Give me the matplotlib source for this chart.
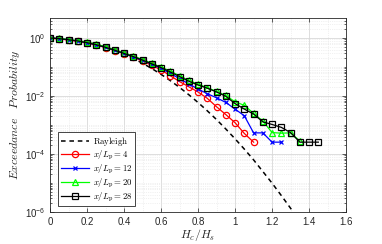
import numpy as np
import matplotlib
matplotlib.use("Agg")
import matplotlib.pyplot as plt
from matplotlib.ticker import LogLocator, NullFormatter, FixedLocator

plt.rcParams['mathtext.fontset'] = 'cm'
plt.rcParams['font.family'] = ['Liberation Sans', 'DejaVu Sans']

# Rayleigh reference curve
ray_x = [0.0, 0.05, 0.1, 0.15, 0.2, 0.25, 0.3, 0.35, 0.4, 0.45, 0.5, 0.55, 0.6, 0.65,
         0.7, 0.75, 0.8, 0.85, 0.9, 0.95, 1.0, 1.05, 1.1, 1.15, 1.2, 1.25, 1.3, 1.35, 1.4]
ray_p = [1.0, 0.980, 0.923, 0.835, 0.726, 0.607, 0.487, 0.375, 0.278, 0.198, 0.135,
         0.089, 0.056, 0.034, 0.0198, 0.0111, 0.00598, 0.00309, 0.00154, 7.3e-4, 3.35e-4,
         1.48e-4, 6.3e-5, 2.5e-5, 9.9e-6, 3.7e-6, 1.35e-6, 4.6e-7, 1.5e-7]

# log10 of exceedance probability, sampled every 0.05 in Hc/Hs
x4 = [0.0, 0.05, 0.1, 0.15, 0.2, 0.25, 0.3, 0.35, 0.4, 0.45, 0.5, 0.55, 0.6, 0.65,
      0.7, 0.75, 0.8, 0.85, 0.9, 0.95, 1.0, 1.05, 1.1]
lp4 = [0.0, -0.03, -0.07, -0.11, -0.17, -0.24, -0.33, -0.43, -0.54, -0.66, -0.80, -0.94,
       -1.10, -1.30, -1.50, -1.68, -1.86, -2.08, -2.37, -2.64, -2.92, -3.29, -3.59]

x12 = [0.0, 0.05, 0.1, 0.15, 0.2, 0.25, 0.3, 0.35, 0.4, 0.45, 0.5, 0.55, 0.6, 0.65,
       0.7, 0.75, 0.8, 0.85, 0.9, 0.95, 1.0, 1.05, 1.1, 1.15, 1.2, 1.25]
lp12 = [0.0, -0.02, -0.06, -0.10, -0.16, -0.23, -0.32, -0.42, -0.53, -0.65, -0.77, -0.90,
        -1.05, -1.22, -1.40, -1.58, -1.76, -1.92, -2.06, -2.22, -2.45, -2.68, -3.27,
        -3.27, -3.59, -3.59]

x20 = [0.0, 0.05, 0.1, 0.15, 0.2, 0.25, 0.3, 0.35, 0.4, 0.45, 0.5, 0.55, 0.6, 0.65,
       0.7, 0.75, 0.8, 0.85, 0.9, 0.95, 1.0, 1.05, 1.1, 1.15, 1.2, 1.25, 1.3, 1.35]
lp20 = [0.0, -0.01, -0.05, -0.09, -0.14, -0.21, -0.30, -0.40, -0.51, -0.62, -0.74, -0.87,
        -1.00, -1.14, -1.30, -1.46, -1.59, -1.71, -1.84, -1.98, -2.20, -2.32, -2.60,
        -2.86, -3.26, -3.28, -3.27, -3.55]

x28 = [0.0, 0.05, 0.1, 0.15, 0.2, 0.25, 0.3, 0.35, 0.4, 0.45, 0.5, 0.55, 0.6, 0.65,
       0.7, 0.75, 0.8, 0.85, 0.9, 0.95, 1.0, 1.05, 1.1, 1.15, 1.2, 1.25, 1.3, 1.35,
       1.4, 1.45]
lp28 = [0.0, -0.02, -0.06, -0.10, -0.16, -0.23, -0.32, -0.42, -0.53, -0.64, -0.76, -0.89,
        -1.02, -1.17, -1.33, -1.49, -1.62, -1.73, -1.86, -2.01, -2.26, -2.45, -2.62,
        -2.89, -2.98, -3.08, -3.26, -3.59, -3.59, -3.59]

fig = plt.figure(figsize=(3.82, 2.44), dpi=100)
ax = fig.add_axes([0.131, 0.131, 0.775, 0.794])

ax.plot(ray_x, ray_p, '--', color='k', lw=1.1, label=r'$\mathrm{Rayleigh}$',
        dashes=(3, 2.5))
ax.plot(x4, 10 ** np.array(lp4), '-o', color='red', lw=0.9, ms=4.5, mfc='none',
        mew=0.9, label=r'$x/L_\mathrm{p} = 4$')
ax.plot(x12, 10 ** np.array(lp12), '-x', color='blue', lw=0.9, ms=3.5, mew=0.9,
        label=r'$x/L_\mathrm{p} = 12$')
ax.plot(x20, 10 ** np.array(lp20), '-^', color='#00ff00', lw=0.9, ms=4.5, mfc='none',
        mew=0.9, label=r'$x/L_\mathrm{p} = 20$')
ax.plot(x28, 10 ** np.array(lp28), '-s', color='k', lw=0.9, ms=4, mfc='none',
        mew=0.9, label=r'$x/L_\mathrm{p} = 28$')

ax.set_yscale('log')
ax.set_xlim(0, 1.6)
ax.set_ylim(1e-6, 4.8)
ax.set_xticks(np.arange(0, 1.61, 0.2))
ax.set_xticklabels(['0', '0.2', '0.4', '0.6', '0.8', '1', '1.2', '1.4', '1.6'])
ax.xaxis.set_minor_locator(FixedLocator(np.arange(0, 1.61, 0.1)))
ax.yaxis.set_major_locator(FixedLocator([1e-6, 1e-4, 1e-2, 1e0]))
ax.set_yticklabels([r'$\mathregular{10^{-6}}$', r'$\mathregular{10^{-4}}$',
                    r'$\mathregular{10^{-2}}$', r'$\mathregular{10^{0}}$'])
ax.yaxis.set_minor_locator(LogLocator(base=10, subs=np.arange(1, 10), numticks=20))
ax.yaxis.set_minor_formatter(NullFormatter())

ax.tick_params(which='both', direction='in', top=True, right=True, colors='#262626',
               labelsize=7, width=0.5)
ax.tick_params(which='major', length=3)
ax.tick_params(which='minor', length=1.5)
ax.tick_params(axis='x', which='minor', length=0)
for s in ax.spines.values():
    s.set_color('#262626')
    s.set_linewidth(0.6)

ax.grid(True, which='major', color='#d8d8d8', lw=0.6)
ax.grid(True, which='minor', color='#e4e4e4', lw=0.5, ls=':')
ax.set_axisbelow(True)

ax.set_xlabel(r'$H_c/H_s$', fontsize=8.5, color='#262626', labelpad=0)
ax.set_ylabel(r'$Exceedance\quad Probability$', fontsize=8.5, color='#262626',
              labelpad=2)

leg = ax.legend(loc='lower left', bbox_to_anchor=(0.027, 0.03), fontsize=6.3,
                frameon=True, fancybox=False, edgecolor='#262626', framealpha=1,
                handlelength=3.2, borderpad=0.3, labelspacing=0.1, handletextpad=0.5,
                borderaxespad=0.0)
leg.get_frame().set_linewidth(0.6)

fig.savefig('out.png', dpi=100)
